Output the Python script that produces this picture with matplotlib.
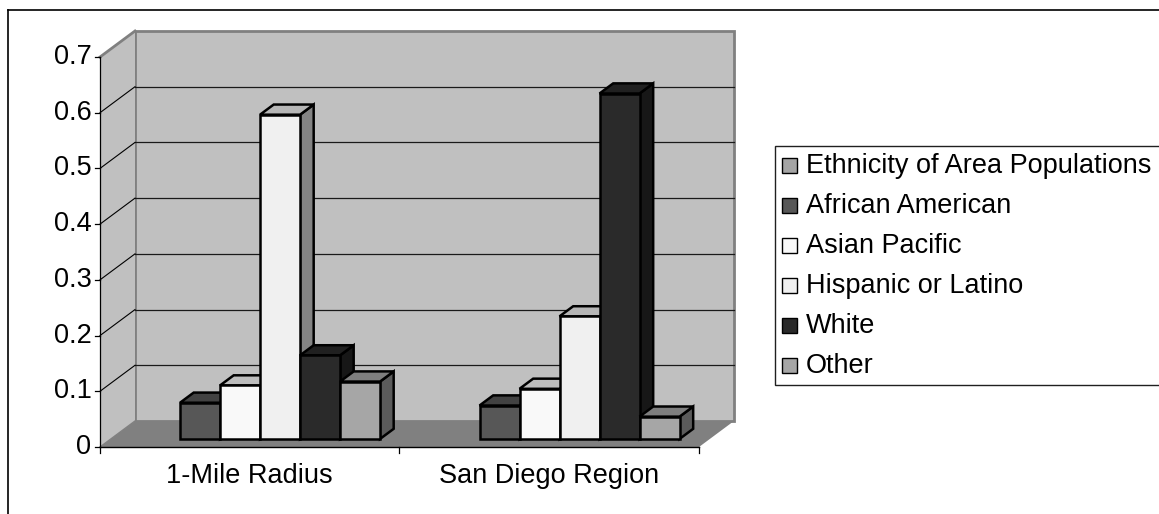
import matplotlib
matplotlib.use("Agg")
import matplotlib.pyplot as plt
from matplotlib.patches import Polygon, Rectangle
from matplotlib.lines import Line2D

plt.rcParams['font.family'] = ['Liberation Sans', 'DejaVu Sans']

categories = ["1-Mile Radius", "San Diego Region"]
series = ["Ethnicity of Area Populations", "African American", "Asian Pacific",
          "Hispanic or Latino", "White", "Other"]
colors = ["#a5a5a5", "#575757", "#f9f9f9", "#f0f0f0", "#2a2a2a", "#a6a6a6"]
# first series has no values in the source sheet
mile_radius = [0.065, 0.096, 0.582, 0.150, 0.103]
san_diego = [0.060, 0.090, 0.220, 0.620, 0.040]
yticks = [0, 0.1, 0.2, 0.3, 0.4, 0.5, 0.6, 0.7]
FS = 19.5

W, H = 1159, 514
fig = plt.figure(figsize=(W / 100, H / 100), dpi=100)
fig.patch.set_facecolor('white')

# front plane of the plot, in pixels
x0p, x1p, y0p, y1p = 100, 699, 447, 57
ax = fig.add_axes([x0p / W, (H - y0p) / H, (x1p - x0p) / W, (y0p - y1p) / H])
ax.set_xlim(0, 2)
ax.set_ylim(0, 0.7)
ax.axis('off')

# 3d depth offset in data units
DX = 35 / ((x1p - x0p) / 2)
DY = 26 / ((y0p - y1p) / 0.7)
ymax = 0.7


def poly(pts, fc, ec='none', lw=0, z=1):
    p = Polygon(pts, closed=True, facecolor=fc, edgecolor=ec, linewidth=lw,
                zorder=z, clip_on=False, joinstyle='miter')
    ax.add_patch(p)


def shade(c, f):
    r, g, b = matplotlib.colors.to_rgb(c)
    return (r * f, g * f, b * f)


# walls and floor
poly([(0, 0), (2, 0), (2 + DX, DY), (DX, DY)], "#808080", z=1)
poly([(DX, DY), (2 + DX, DY), (2 + DX, ymax + DY), (DX, ymax + DY)], "#c0c0c0",
     ec="#808080", lw=2, z=1)
poly([(0, 0), (DX, DY), (DX, ymax + DY), (0, ymax)], "#c0c0c0", z=1)
ax.plot([0, DX], [ymax, ymax + DY], color="#808080", lw=2, zorder=2, clip_on=False)
ax.plot([0, DX], [0, DY], color="#808080", lw=1, zorder=2, clip_on=False)

for v in yticks[1:-1]:
    ax.plot([DX, 2 + DX], [v + DY, v + DY], color="#1a1a1a", lw=0.9, zorder=2, clip_on=False)
    ax.plot([0, DX], [v, v + DY], color="#000000", lw=0.8, zorder=2, clip_on=False)

# axes lines, ticks, labels
ax.plot([0, 0], [0, ymax], color="black", lw=0.9, zorder=3, clip_on=False)
ax.plot([0, 2], [0, 0], color="black", lw=1.0, zorder=3, clip_on=False)
tx = 5 / ((x1p - x0p) / 2)
ty = 6 / ((y0p - y1p) / 0.7)
for v in yticks:
    ax.plot([-tx, 0], [v, v], color="black", lw=0.9, zorder=3, clip_on=False)
    ax.text(-tx - 0.012, v, "{:g}".format(v), ha='right', va='center', fontsize=FS)
for k in range(3):
    ax.plot([k, k], [0, -ty], color="black", lw=0.9, zorder=3, clip_on=False)
for k, c in enumerate(categories):
    ax.text(k + 0.5, -29 / ((y0p - y1p) / 0.7), c, ha='center', va='center', fontsize=FS)

# 3d bars
BW = 40 / ((x1p - x0p) / 2)
F0, D = 0.31, 0.39
start = 0.231
z = 10
for g, vals in enumerate([mile_radius, san_diego]):
    for i, v in enumerate(vals):
        c = colors[i + 1]
        xl = g + start + i * BW + F0 * DX
        yb = F0 * DY
        xr = xl + BW
        dx, dy = D * DX, D * DY
        poly([(xr, yb), (xr + dx, yb + dy), (xr + dx, yb + v + dy), (xr, yb + v)],
             shade(c, 0.55), ec="black", lw=1.8, z=z)
        poly([(xl, yb + v), (xr, yb + v), (xr + dx, yb + v + dy), (xl + dx, yb + v + dy)],
             shade(c, 0.76), ec="black", lw=1.8, z=z + 1)
        poly([(xl, yb), (xr, yb), (xr, yb + v), (xl, yb + v)],
             c, ec="black", lw=1.8, z=z + 2)
        z += 3

# legend box, drawn in pixels
ftr = fig.transFigure
leg_l, leg_t, leg_b = 775, 146, 385
fig.patches.append(Rectangle((leg_l / W, (H - leg_b) / H), (W + 10 - leg_l) / W,
                             (leg_b - leg_t) / H, transform=ftr, facecolor='white',
                             edgecolor='#202020', lw=1.0, clip_on=False))
for i, (s, c) in enumerate(zip(series, colors)):
    yc = 166 + i * 40
    fig.patches.append(Rectangle((782 / W, (H - yc - 7) / H), 15 / W, 15 / H, transform=ftr,
                                 facecolor=c, edgecolor='black', lw=1.0))
    fig.text(806 / W, (H - yc) / H, s, ha='left', va='center', fontsize=FS)

# outer chart frame
fig.add_artist(Line2D([8 / W, 8 / W], [0, (H - 10) / H], transform=ftr, color='black', lw=1.2))
fig.add_artist(Line2D([8 / W, 1], [(H - 10) / H, (H - 10) / H], transform=ftr, color='black', lw=1.2))

fig.savefig("out.png", dpi=100)
plt.close(fig)
